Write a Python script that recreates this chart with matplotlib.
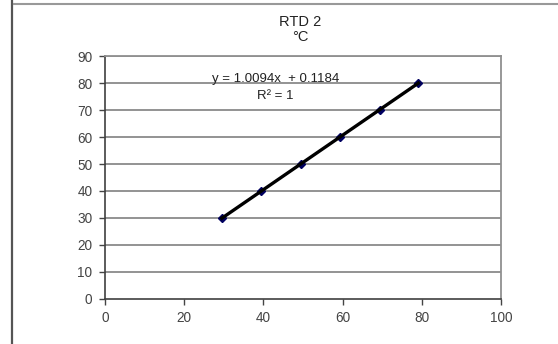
import numpy as np
import matplotlib.pyplot as plt
from matplotlib.lines import Line2D

plt.rcParams['font.family'] = ['Liberation Sans', 'DejaVu Sans']

# readings from the reference chart
x_ref = [29.5, 39.5, 49.5, 59.4, 69.4, 79.1]
y_rtd = [30.0, 40.1, 50.1, 60.1, 70.2, 80.0]
slope, intercept = 1.0094, 0.1184
x_ticks = [0, 20, 40, 60, 80, 100]
y_ticks = [0, 10, 20, 30, 40, 50, 60, 70, 80, 90]

fig = plt.figure(figsize=(5.58, 3.44), dpi=100)
ax = fig.add_axes([0.188, 0.131, 0.710, 0.706])

# chart-area frame bits
fig.add_artist(Line2D([12/558, 12/558], [0, 1], color='#555555', lw=1.6))
fig.add_artist(Line2D([14/558, 1], [1 - 4/344, 1 - 4/344], color='#999999', lw=1.5))

for yv in y_ticks[1:]:
    ax.axhline(yv, color='#8a8a8a', lw=1.3, zorder=1)

ax.plot(x_ref, y_rtd, linestyle='none', marker='D', ms=4.5, color='#000060', zorder=3)
xt = np.array([x_ref[0], x_ref[-1]])
ax.plot(xt, slope * xt + intercept, color='black', lw=2.4, zorder=4)

ax.set_xlim(0, 100)
ax.set_ylim(0, 90)
ax.set_xticks(x_ticks)
ax.set_yticks(y_ticks)
ax.tick_params(labelsize=9.8, colors='#444444', length=4, width=1, pad=5)
for s in ['top', 'right']:
    ax.spines[s].set_color('#909090')
    ax.spines[s].set_linewidth(1.3)
for s in ['left', 'bottom']:
    ax.spines[s].set_color('#404040')
    ax.spines[s].set_linewidth(1.2)

fig.text(300/558, 1 - 22/344, 'RTD 2', ha='center', va='center', fontsize=10.5, color='#222222')
fig.text(300/558, 1 - 37/344, '°C', ha='center', va='center', fontsize=10.5, color='#222222')
ax.text(0.43, 0.905, 'y = 1.0094x  + 0.1184', transform=ax.transAxes,
        ha='center', va='center', fontsize=9.5, color='#222222')
ax.text(0.43, 0.835, 'R² = 1', transform=ax.transAxes,
        ha='center', va='center', fontsize=9.5, color='#222222')

fig.savefig('out.png', dpi=100)
